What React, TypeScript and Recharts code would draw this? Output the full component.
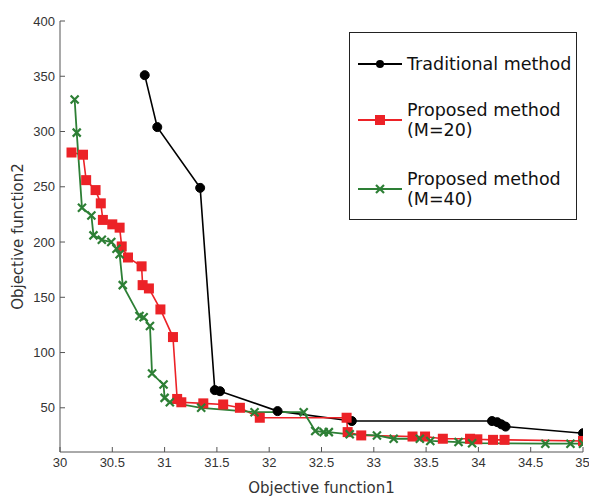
import { Line, LineChart, XAxis, YAxis } from "recharts";

// Pareto fronts: [objective1, objective2]
const traditional: [number, number][] = [
    [30.81, 351], [30.93, 304], [31.34, 249], [31.48, 66], [31.53, 65],
    [32.08, 47], [32.79, 38], [34.13, 38], [34.18, 37], [34.22, 35], [34.26, 33], [35, 27],
];

const proposedM20: [number, number][] = [
    [30.11, 281], [30.22, 279], [30.25, 256], [30.34, 247], [30.39, 235], [30.41, 220],
    [30.5, 216], [30.57, 213], [30.59, 196], [30.65, 186], [30.78, 178], [30.79, 161],
    [30.85, 158], [30.96, 139], [31.08, 114], [31.12, 58], [31.16, 55], [31.37, 54],
    [31.56, 53], [31.72, 50], [31.91, 41], [32.74, 41], [32.75, 28], [32.88, 25],
    [33.37, 24], [33.49, 24], [33.66, 22], [33.92, 22], [33.99, 21.5], [34.14, 21], [34.25, 21], [35, 20],
];

const proposedM40: [number, number][] = [
    [30.14, 329], [30.16, 299], [30.21, 231], [30.3, 224], [30.32, 206], [30.4, 202],
    [30.49, 200], [30.54, 194], [30.57, 189], [30.6, 161], [30.76, 133], [30.8, 132],
    [30.86, 124], [30.88, 81], [30.99, 71], [31.0, 59], [31.05, 55], [31.35, 50],
    [31.86, 46], [32.33, 46], [32.44, 29], [32.52, 28], [32.57, 28], [32.77, 26],
    [33.03, 25], [33.19, 22], [33.44, 22], [33.54, 20], [33.81, 19], [33.94, 18],
    [34.64, 17.5], [34.88, 17.5], [35, 17.5],
];

const xTicks = [30, 30.5, 31, 31.5, 32, 32.5, 33, 33.5, 34, 34.5, 35];
const yTicks = [50, 100, 150, 200, 250, 300, 350, 400];

const toRows = (pts: [number, number][]) => pts.map(([f1, f2]) => ({ f1, f2 }));

const RED = "#ec2227";
const GREEN = "#2d7f35";
const FONT = "'Liberation Sans', Arial, sans-serif";
const TITLE_FONT = "'DejaVu Sans', sans-serif";

const SquareDot = (props: any) => {
    const { cx, cy } = props;
    if (cx == null || cy == null) return null;
    return <rect x={cx - 5} y={cy - 5} width={10} height={10} fill={RED} stroke="none" />;
};

const CrossDot = (props: any) => {
    const { cx, cy } = props;
    if (cx == null || cy == null) return null;
    return (
        <path
            d={`M${cx - 4},${cy - 4}L${cx + 4},${cy + 4}M${cx - 4},${cy + 4}L${cx + 4},${cy - 4}`}
            stroke={GREEN}
            strokeWidth={2.2}
            fill="none"
        />
    );
};

const legendItems = [
    { lines: ["Traditional method"], color: "#000", marker: "circle", y: 31 },
    { lines: ["Proposed method", "(M=20)"], color: RED, marker: "square", y: 87 },
    { lines: ["Proposed method", "(M=40)"], color: GREEN, marker: "cross", y: 156 },
];

function LegendBox() {
    return (
        <div
            style={{
                position: "absolute",
                left: 349,
                top: 32,
                width: 226,
                height: 186,
                border: "1px solid #222",
                background: "#fff",
                fontFamily: TITLE_FONT,
                fontSize: 17.5,
                color: "#111",
            }}
        >
            {legendItems.map((it) => (
                <div key={it.lines.join()}>
                    <svg width={46} height={14} style={{ position: "absolute", left: 8, top: it.y - 7 }}>
                        <line x1={0} y1={7} x2={44} y2={7} stroke={it.color} strokeWidth={2} />
                        {it.marker === "circle" && <circle cx={22} cy={7} r={4} fill="#000" />}
                        {it.marker === "square" && <rect x={17} y={2} width={10} height={10} fill={RED} />}
                        {it.marker === "cross" && (
                            <path d="M18,3L26,11M18,11L26,3" stroke={GREEN} strokeWidth={2.2} />
                        )}
                    </svg>
                    <div
                        style={{
                            position: "absolute",
                            left: 57,
                            top: it.y - (it.lines.length === 1 ? 10 : 20),
                            lineHeight: "20px",
                            whiteSpace: "nowrap",
                        }}
                    >
                        {it.lines.map((l) => (
                            <div key={l}>{l}</div>
                        ))}
                    </div>
                </div>
            ))}
        </div>
    );
}

export default function App() {
    return (
        <div style={{ position: "absolute", left: 0, top: 0, width: 589, height: 497, background: "#fff" }}>
            <LineChart width={589} height={497} margin={{ top: 21, right: 6, left: 10, bottom: 0 }}>
                <XAxis
                    type="number"
                    dataKey="f1"
                    domain={[30, 35]}
                    ticks={xTicks}
                    allowDataOverflow
                    height={45}
                    tickSize={-5}
                    tickMargin={11}
                    stroke="#555"
                    tick={{ fill: "#333", fontSize: 13, fontFamily: FONT }}
                    label={{
                        value: "Objective function1",
                        position: "insideBottom",
                        offset: 4,
                        fill: "#333",
                        fontSize: 15,
                        fontFamily: TITLE_FONT,
                    }}
                />
                <YAxis
                    type="number"
                    dataKey="f2"
                    domain={[10, 400]}
                    ticks={yTicks}
                    allowDataOverflow
                    width={50}
                    tickSize={-5}
                    tickMargin={10}
                    stroke="#555"
                    tick={{ fill: "#333", fontSize: 13, fontFamily: FONT }}
                    label={{
                        value: "Objective function2",
                        angle: -90,
                        position: "center",
                        dx: -17,
                        fill: "#333",
                        fontSize: 15,
                        fontFamily: TITLE_FONT,
                    }}
                />
                <Line
                    data={toRows(traditional)}
                    dataKey="f2"
                    type="linear"
                    stroke="#000"
                    strokeWidth={1.6}
                    dot={{ r: 4.5, fill: "#000", stroke: "#000", strokeWidth: 1 }}
                    isAnimationActive={false}
                />
                <Line
                    data={toRows(proposedM20)}
                    dataKey="f2"
                    type="linear"
                    stroke={RED}
                    strokeWidth={1.6}
                    dot={<SquareDot />}
                    isAnimationActive={false}
                />
                <Line
                    data={toRows(proposedM40)}
                    dataKey="f2"
                    type="linear"
                    stroke={GREEN}
                    strokeWidth={1.8}
                    dot={<CrossDot />}
                    isAnimationActive={false}
                />
            </LineChart>
            <LegendBox />
        </div>
    );
}
